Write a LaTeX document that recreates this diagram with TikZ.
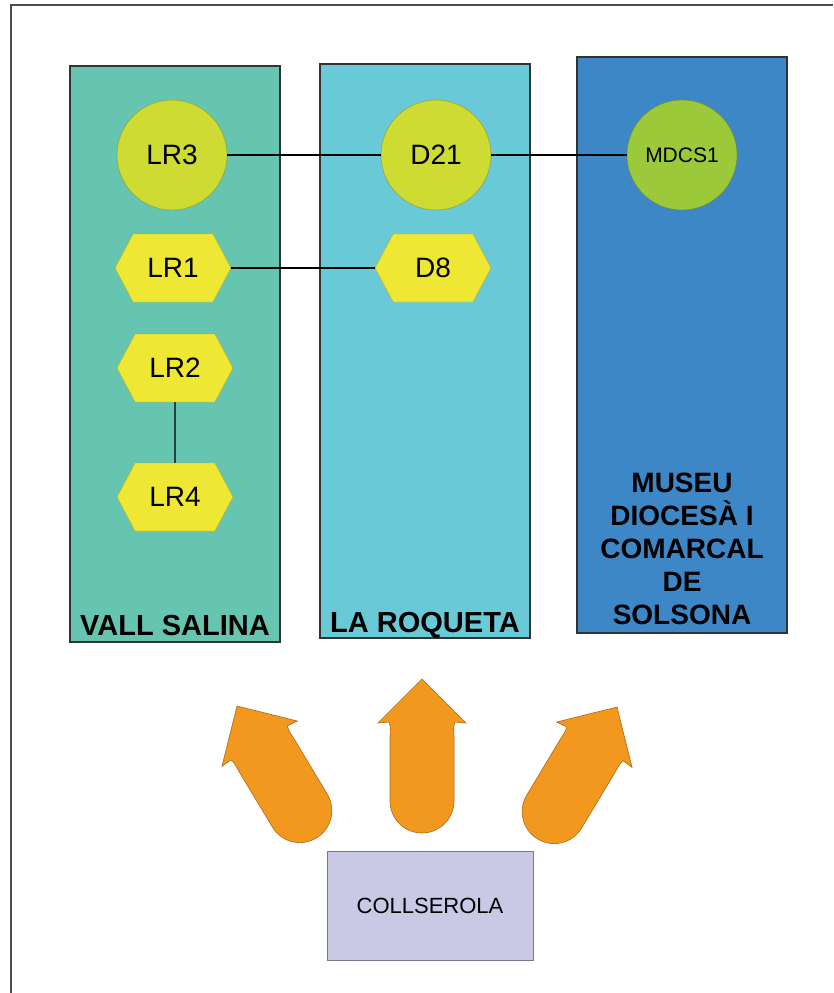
\documentclass[tikz,border=0pt]{standalone}
\usepackage{fontspec}
\setmainfont{Liberation Sans}
\usepackage{xcolor}
\usepackage{tikz}
\usetikzlibrary{shapes.symbols}

\definecolor{vallc}{HTML}{66C5B0}
\definecolor{roquetac}{HTML}{69C9D6}
\definecolor{museuc}{HTML}{3D87C7}
\definecolor{sitec}{HTML}{CDDB32}
\definecolor{mdcsc}{HTML}{9CC93A}
\definecolor{hexc}{HTML}{EEE835}
\definecolor{arrowc}{HTML}{F3981F}
\definecolor{collc}{HTML}{C9C9E5}

\begin{document}
\begin{tikzpicture}[x=1pt,y=-1pt,
  column/.style={shape=rectangle,draw=black!80,line width=1.2pt,minimum width=210pt,inner sep=0pt},
  coltitle/.style={font=\bfseries\fontsize{29}{33}\selectfont,anchor=base,inner sep=0pt},
  site/.style={shape=circle,fill=sitec,draw=sitec!70!black,minimum size=110pt,inner sep=0pt,font=\fontsize{28}{30}\selectfont},
  hexa/.style={shape=signal,signal to=east and west,signal pointer angle=124,fill=hexc,draw=hexc!75!black,minimum width=116pt,minimum height=68pt,inner sep=0pt,font=\fontsize{28}{30}\selectfont},
  link/.style={draw=black,line width=1.1pt},
  bigarrow/.pic={
    \draw[fill=arrowc,draw=arrowc!70!black,line width=0.6pt] (0,0) -- (44,44) -- (33,43)
      .. controls (31,47) and (32,52) .. (32,58) -- (32,122)
      .. controls (32,139.7) and (17.7,154) .. (0,154)
      .. controls (-17.7,154) and (-32,139.7) .. (-32,122) -- (-32,58)
      .. controls (-32,52) and (-31,47) .. (-33,43) -- (-44,44) -- cycle;
  }]
\useasboundingbox (0,0) rectangle (833,993);
\fill[white] (0,0) rectangle (833,993);
\draw[black!70,line width=1.5pt] (11,993) -- (11,5) -- (833,5);

% columns
\node[column,fill=vallc,minimum height=576pt] (vall) at (175,354) {};
\node[column,fill=roquetac,minimum height=574pt] (roqueta) at (425,351) {};
\node[column,fill=museuc,minimum height=576pt] (museu) at (682,345) {};

\node[coltitle] (vallT) at (175,635) {VALL SALINA};
\node[coltitle] (roquetaT) at (425,632) {LA ROQUETA};
\node[font=\bfseries\fontsize{28}{33}\selectfont,align=center,inner sep=0pt] (museuT) at (682,549)
  {MUSEU\\DIOCESÀ I\\COMARCAL\\DE\\SOLSONA};

% sites
\node[site] (LR3) at (172,155) {LR3};
\node[site] (D21) at (436,155) {D21};
\node[site,fill=mdcsc,draw=mdcsc!70!black,font=\fontsize{21}{24}\selectfont] (MDCS1) at (682,155) {MDCS1};
\node[hexa] (LR1) at (173,268) {LR1};
\node[hexa] (D8) at (433,268) {D8};
\node[hexa] (LR2) at (175,368) {LR2};
\node[hexa] (LR4) at (175,497) {LR4};

\path[link] (LR3) edge (D21);
\path[link] (D21) edge (MDCS1);
\path[link] (LR1) edge (D8);
\path[link] (LR2) edge (LR4);

% collserola
\node[shape=rectangle,fill=collc,draw=collc!60!black,line width=0.6pt,minimum width=206pt,minimum height=109pt,font=\fontsize{22}{24}\selectfont] (coll) at (430,906) {COLLSEROLA};

\pic[rotate=31] at (237,706) {bigarrow};
\pic at (422,679) {bigarrow};
\pic[rotate=-31] at (617,707) {bigarrow};
\end{tikzpicture}
\end{document}
